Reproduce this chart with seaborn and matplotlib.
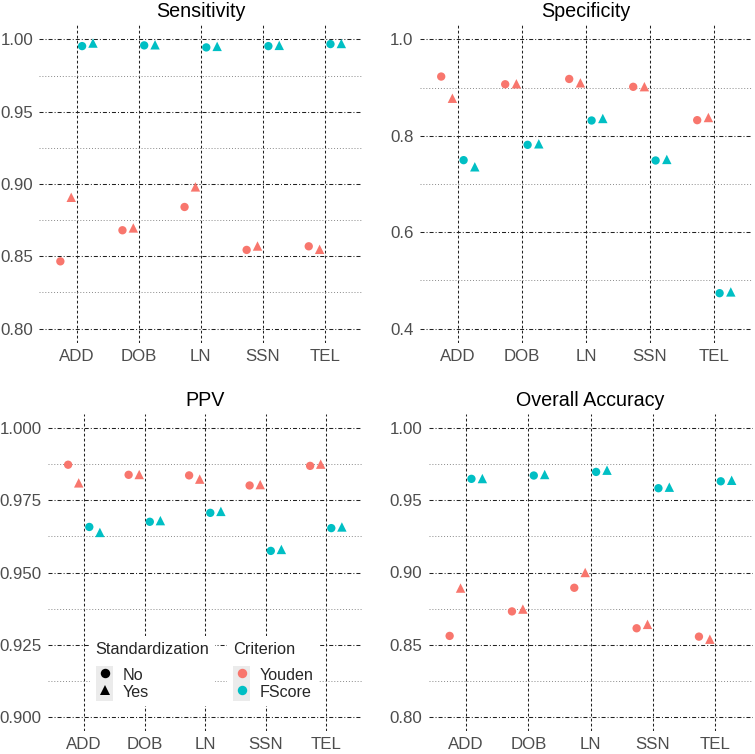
import pandas as pd
import seaborn as sns
import matplotlib.pyplot as plt
from matplotlib.lines import Line2D
from matplotlib.patches import Rectangle
from matplotlib.ticker import MultipleLocator, FormatStrFormatter

# categories
fields = ['ADD', 'DOB', 'LN', 'SSN', 'TEL']
criteria = ['Youden', 'FScore']
standardization = ['No', 'Yes']

# Sensitivity
sens_youden_no = [0.8465, 0.8680, 0.8841, 0.8544, 0.8569]
sens_youden_yes = [0.8908, 0.8696, 0.8980, 0.8571, 0.8548]
sens_fscore_no = [0.9954, 0.9959, 0.9945, 0.9954, 0.9968]
sens_fscore_yes = [0.9975, 0.9963, 0.9952, 0.9959, 0.9972]

# Specificity
spec_youden_no = [0.923, 0.907, 0.918, 0.9017, 0.8325]
spec_youden_yes = [0.878, 0.908, 0.910, 0.902, 0.838]
spec_fscore_no = [0.7495, 0.7813, 0.8318, 0.7488, 0.4734]
spec_fscore_yes = [0.7357, 0.7834, 0.836, 0.751, 0.476]

# PPV
ppv_youden_no = [0.9874, 0.9839, 0.9837, 0.9802, 0.9870]
ppv_youden_yes = [0.9811, 0.9840, 0.9824, 0.9805, 0.9876]
ppv_fscore_no = [0.9658, 0.9676, 0.9707, 0.9575, 0.9654]
ppv_fscore_yes = [0.9639, 0.9680, 0.9712, 0.9580, 0.9658]

# Overall Accuracy
acc_youden_no = [0.8560, 0.8730, 0.8894, 0.8613, 0.8555]
acc_youden_yes = [0.8892, 0.8746, 0.9000, 0.8640, 0.8537]
acc_fscore_no = [0.9650, 0.9673, 0.9698, 0.9585, 0.9633]
acc_fscore_yes = [0.9652, 0.9680, 0.9710, 0.9592, 0.9640]

palette = {'Youden': '#F8766D', 'FScore': '#00BFC4'}
markers = {'No': 'o', 'Yes': '^'}
dodge_width = 0.7


def make_frame(youden_no, youden_yes, fscore_no, fscore_yes):
    series = {('Youden', 'No'): youden_no, ('Youden', 'Yes'): youden_yes,
              ('FScore', 'No'): fscore_no, ('FScore', 'Yes'): fscore_yes}
    rows = []
    for g, (key, vals) in enumerate(series.items()):
        # position_dodge like ggplot: 4 groups inside a width of 0.7
        offset = (g - 1.5) * dodge_width / 4
        for i, (f, v) in enumerate(zip(fields, vals)):
            rows.append({'Field': f, 'pos': i + offset, 'value': v,
                         'Criterion': key[0], 'Standardization': key[1]})
    return pd.DataFrame(rows)


panels = [
    ('Sensitivity', make_frame(sens_youden_no, sens_youden_yes, sens_fscore_no, sens_fscore_yes),
     (0.80, 1.00), 0.05, '%.2f', (39.4, 25, 362.3, 343)),
    ('Specificity', make_frame(spec_youden_no, spec_youden_yes, spec_fscore_no, spec_fscore_yes),
     (0.40, 1.00), 0.2, '%.1f', (419.6, 25, 752.4, 343)),
    ('PPV', make_frame(ppv_youden_no, ppv_youden_yes, ppv_fscore_no, ppv_fscore_yes),
     (0.90, 1.00), 0.025, '%.3f', (47.7, 414, 362.3, 731)),
    ('Overall Accuracy', make_frame(acc_youden_no, acc_youden_yes, acc_fscore_no, acc_fscore_yes),
     (0.80, 1.00), 0.05, '%.2f', (428.6, 414, 752.7, 731)),
]

sns.set_style('white')
plt.rcParams['font.family'] = ['Liberation Sans', 'DejaVu Sans']
plt.rcParams['lines.scale_dashes'] = False

W, H = 755, 754
fig = plt.figure(figsize=(W / 100, H / 100), dpi=100)

axes = []
for title, df, (lo, hi), step, fmt, (l, t, r, b) in panels:
    ax = fig.add_axes([l / W, 1 - b / H, (r - l) / W, (b - t) / H])
    sns.scatterplot(data=df, x='pos', y='value', hue='Criterion', style='Standardization',
                    size='Standardization', sizes={'No': 36, 'Yes': 46},
                    palette=palette, markers=markers, hue_order=criteria,
                    style_order=standardization, linewidth=0, legend=False, ax=ax, zorder=3)
    pad = 0.05 * (hi - lo)
    ax.set_ylim(lo - pad, hi + pad)
    ax.set_xlim(-0.6, len(fields) - 0.4)
    ax.set_xticks(range(len(fields)))
    ax.set_xticklabels(fields)
    ax.yaxis.set_major_locator(MultipleLocator(step))
    ax.yaxis.set_minor_locator(MultipleLocator(step / 2))
    ax.yaxis.set_major_formatter(FormatStrFormatter(fmt))
    ax.set_axisbelow(True)
    ax.grid(True, which='major', axis='y', color='#222222', linewidth=0.75,
            linestyle=(0, (2.9, 1.45, 0.72, 1.45)))
    ax.grid(True, which='minor', axis='y', color='#8a8a8a', linewidth=0.7,
            linestyle=(0, (0.7, 1.4)))
    ax.grid(True, which='major', axis='x', color='#222222', linewidth=0.75,
            linestyle=(0, (2.0, 1.6)))
    for s in ax.spines.values():
        s.set_visible(False)
    ax.tick_params(axis='both', which='major', length=3, width=0.75, color='#222222',
                   labelsize=12.2, labelcolor='#4D4D4D', pad=1.5)
    ax.tick_params(axis='y', which='minor', length=0)
    ax.set_xlabel('')
    ax.set_ylabel('')
    ax.set_title(title, fontsize=14.2, pad=5.5, color='black')
    axes.append(ax)

# legends inside the PPV panel
ax = axes[2]
key_bg = '#EBEBEB'
std_handles = [(Rectangle((0, 0), 1, 1, facecolor=key_bg, edgecolor='none'),
                Line2D([], [], marker=markers[s], color='black', linestyle='none',
                       markersize=6.8 if s == 'No' else 7.4, markeredgewidth=0))
               for s in standardization]
crit_handles = [(Rectangle((0, 0), 1, 1, facecolor=key_bg, edgecolor='none'),
                 Line2D([], [], marker='o', color=palette[c], linestyle='none',
                        markersize=6.8, markeredgewidth=0))
                for c in criteria]

leg_kw = dict(loc='upper left', bbox_transform=fig.transFigure, borderaxespad=0,
              frameon=True, facecolor='white', edgecolor='none', framealpha=1,
              fancybox=False, fontsize=11.6, title_fontsize=11.8, handlelength=1.1,
              handleheight=1.3, handletextpad=0.55, labelspacing=0, borderpad=0.35,
              alignment='left')
leg1 = ax.legend(std_handles, standardization, title='Standardization',
                 bbox_to_anchor=(90 / W, 1 - 636 / H), **leg_kw)
leg1._legend_box.sep = 6.5
ax.add_artist(leg1)
leg2 = ax.legend(crit_handles, criteria, title='Criterion',
                 bbox_to_anchor=(227 / W, 1 - 636 / H), **leg_kw)
leg2._legend_box.sep = 6.5

fig.savefig('out.png', dpi=100, facecolor='white')
